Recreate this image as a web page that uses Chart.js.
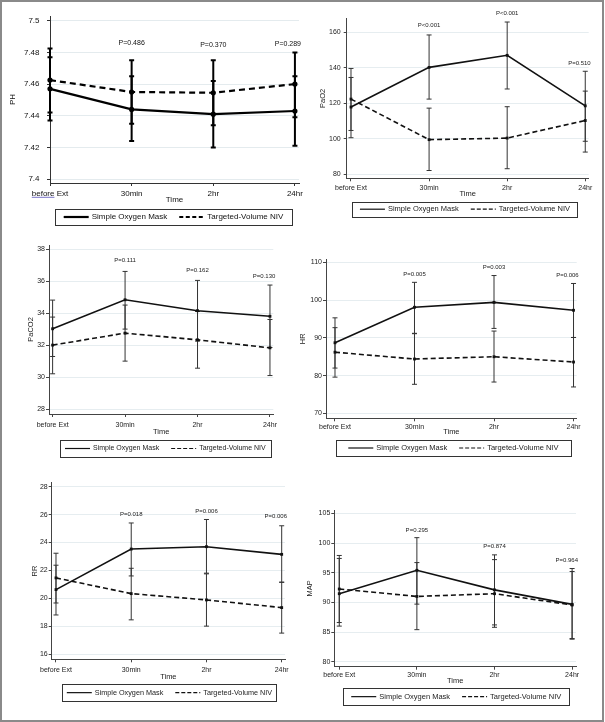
<!DOCTYPE html>
<html>
<head>
<meta charset="utf-8">
<title>Blood gas and vital signs after extubation</title>
<script src="https://cdn.jsdelivr.net/npm/chart.js@4.4.1/dist/chart.umd.min.js"></script>
<style>
    html, body { margin: 0; padding: 0; background: #fff; }
    #page { position: relative; width: 605px; height: 722px; background: #fff; overflow: hidden; }
    #frame { position: absolute; left: 0; top: 0; width: 604px; height: 722px; box-sizing: border-box; border: 2px solid #8a8a8a; pointer-events: none; }
    .panel { position: absolute; }
    .panel canvas { display: block; }
</style>
</head>
<body>
<div id="page">
    <div class="panel" id="p-ph"><canvas></canvas></div>
    <div class="panel" id="p-pao2"><canvas></canvas></div>
    <div class="panel" id="p-paco2"><canvas></canvas></div>
    <div class="panel" id="p-hr"><canvas></canvas></div>
    <div class="panel" id="p-rr"><canvas></canvas></div>
    <div class="panel" id="p-map"><canvas></canvas></div>
    <div id="frame"></div>
</div>
<script>
// --- Shared labels ---
const timeLabels = ["before Ext", "30min", "2hr", "24hr"];
const legendLabels = ["Simple Oxygen Mask", "Targeted-Volume NIV"];

// --- PH ---
const phTicks = [7.4, 7.42, 7.44, 7.46, 7.48, 7.5];
const phMask = [7.457, 7.444, 7.441, 7.443];
const phMaskLow = [7.437, 7.424, 7.420, 7.421];
const phMaskHigh = [7.477, 7.465, 7.462, 7.465];
const phNiv = [7.4625, 7.455, 7.4545, 7.460];
const phNivLow = [7.442, 7.435, 7.434, 7.439];
const phNivHigh = [7.4825, 7.475, 7.475, 7.480];
const phP = [null, "P=0.486", "P=0.370", "P=0.289"];
const phPY = [null, 7.4857, 7.4846, 7.4853];

// --- PaO2 ---
const pao2Ticks = [80, 100, 120, 140, 160];
const pao2Mask = [117.8, 140.2, 147.0, 118.5];
const pao2MaskLow = [100.5, 122.3, 128.0, 98.5];
const pao2MaskHigh = [134.5, 158.5, 165.8, 138.0];
const pao2Niv = [122.3, 99.4, 100.3, 110.2];
const pao2NivLow = [104.6, 82.0, 83.0, 92.4];
const pao2NivHigh = [139.6, 117.2, 118.0, 126.8];
const pao2P = [null, "P<0.001", "P<0.001", "P=0.510"];
const pao2PY = [null, 163.7, 170.7, 142.5];

// --- PaCO2 ---
const paco2Ticks = [28, 30, 32, 34, 36, 38];
const paco2Mask = [33.02, 34.83, 34.15, 33.8];
const paco2MaskLow = [31.29, 33.0, 32.25, 31.85];
const paco2MaskHigh = [34.81, 36.6, 36.04, 35.75];
const paco2Niv = [32.0, 32.75, 32.33, 31.83];
const paco2NivLow = [30.21, 31.0, 30.56, 30.1];
const paco2NivHigh = [33.75, 34.5, 34.1, 33.6];
const paco2P = [null, "P=0.111", "P=0.162", "P=0.130"];
const paco2PY = [null, 37.27, 36.69, 36.27];

// --- HR ---
const hrTicks = [70, 80, 90, 100, 110];
const hrMask = [88.7, 98.1, 99.4, 97.3];
const hrMaskLow = [82.0, 91.2, 92.5, 90.1];
const hrMaskHigh = [95.3, 104.7, 106.5, 104.4];
const hrNiv = [86.2, 84.4, 85.0, 83.6];
const hrNivLow = [79.6, 77.7, 78.3, 77.0];
const hrNivHigh = [92.7, 91.1, 91.8, 90.1];
const hrP = [null, "P=0.005", "P=0.003", "P=0.006"];
const hrPY = [null, 106.8, 108.7, 106.6];

// --- RR ---
const rrTicks = [16, 18, 20, 22, 24, 26, 28];
const rrMask = [20.62, 23.53, 23.7, 23.15];
const rrMaskLow = [18.8, 21.6, 21.8, 21.15];
const rrMaskHigh = [22.37, 25.4, 25.65, 25.2];
const rrNiv = [21.46, 20.33, 19.88, 19.33];
const rrNivLow = [19.66, 18.45, 18.0, 17.5];
const rrNivHigh = [23.23, 22.15, 21.75, 21.15];
const rrP = [null, "P=0.018", "P=0.006", "P=0.006"];
const rrPY = [null, 26.05, 26.2, 25.9];

// --- MAP ---
const mapTicks = [80, 85, 90, 95, 100, 105];
const mapMask = [91.46, 95.4, 92.1, 89.66];
const mapMaskLow = [86.0, 89.7, 86.2, 83.8];
const mapMaskHigh = [97.4, 100.9, 98.0, 95.7];
const mapNiv = [92.25, 91.0, 91.46, 89.55];
const mapNivLow = [86.6, 85.4, 85.8, 83.9];
const mapNivHigh = [97.9, 96.7, 97.2, 95.2];
const mapP = [null, "P=0.295", "P=0.874", "P=0.964"];
const mapPY = [null, 102.2, 99.4, 97.1];

Chart.defaults.font.family = '"Liberation Sans", Arial, sans-serif';

// First panel is rendered heavier than the others in the source figure
const heavyStyle = {
    line: "#000", lineWidth: 2.2, dash: [6, 4], marker: "circle", markerSize: 2.6,
    err: "#000", errWidth: 2, cap: 2.5, text: "#111", axis: "#333", grid: "#e4ebee",
    tickSize: 8, titleSize: 8, pSize: 7, legendSize: 8, legendLine: 2.2, legendDash: [4, 2.5]
};
const lightStyle = {
    line: "#111", lineWidth: 1.6, dash: [5, 3], marker: "rect", markerSize: 2,
    err: "#333", errWidth: 1, cap: 2.5, text: "#222", axis: "#444", grid: "#e6edf0",
    tickSize: 7, titleSize: 7.5, pSize: 6, legendSize: 7.5, legendLine: 1.2, legendDash: [4, 2]
};

function makePanel(p) {
    const [cx, cy, cw, ch] = p.box;
    const holder = document.getElementById(p.holder);
    holder.style.left = cx + "px";
    holder.style.top = cy + "px";
    holder.style.width = cw + "px";
    holder.style.height = ch + "px";
    const canvas = holder.querySelector("canvas");
    canvas.width = cw;
    canvas.height = ch;

    const st = p.heavy ? heavyStyle : lightStyle;
    const left = p.area[0] - cx;
    const top = p.area[1] - cy;
    const right = p.area[2] - cx;
    const bottom = p.area[3] - cy;
    const tickLh = st.tickSize * 1.2;
    const titleLh = st.titleSize * 1.2;
    const xAxisHeight = p.xTitleY - p.area[3] + titleLh / 2;
    const xTickPad = p.xLabelY - p.area[3] - 3 - tickLh / 2;
    const yTitlePad = p.yTitleX - cx - titleLh / 2;

    const series = (label, values, low, high, dash) => ({
        label: label,
        data: values.map((v, i) => ({ x: i, y: v })),
        errLow: low,
        errHigh: high,
        borderColor: st.line,
        backgroundColor: st.line,
        borderWidth: st.lineWidth,
        borderDash: dash,
        pointStyle: st.marker,
        pointRadius: st.markerSize,
        pointBorderWidth: 0,
        tension: 0,
        clip: false
    });

    // Error bars with caps, drawn below the lines
    const errorBars = {
        id: "errorBars",
        beforeDatasetsDraw(chart) {
            const { ctx, scales: { x, y } } = chart;
            ctx.save();
            ctx.strokeStyle = st.err;
            ctx.lineWidth = st.errWidth;
            ctx.setLineDash([]);
            chart.data.datasets.forEach(ds => {
                ds.errLow.forEach((lo, i) => {
                    const px = x.getPixelForValue(i);
                    const yl = y.getPixelForValue(lo);
                    const yh = y.getPixelForValue(ds.errHigh[i]);
                    ctx.beginPath();
                    ctx.moveTo(px, yl); ctx.lineTo(px, yh);
                    ctx.moveTo(px - st.cap, yl); ctx.lineTo(px + st.cap, yl);
                    ctx.moveTo(px - st.cap, yh); ctx.lineTo(px + st.cap, yh);
                    ctx.stroke();
                });
            });
            ctx.restore();
        }
    };

    // P value annotations above each time point
    const pValues = {
        id: "pValues",
        afterDatasetsDraw(chart) {
            const { ctx, chartArea, scales: { x, y } } = chart;
            ctx.save();
            ctx.fillStyle = st.text;
            ctx.font = st.pSize + 'px "Liberation Sans", Arial, sans-serif';
            ctx.textAlign = "center";
            ctx.textBaseline = "middle";
            p.pText.forEach((txt, i) => {
                if (!txt) return;
                const w = ctx.measureText(txt).width;
                let px = x.getPixelForValue(i);
                if (px + w / 2 > chartArea.right + 2) px = chartArea.right + 2 - w / 2;
                ctx.fillText(txt, px, y.getPixelForValue(p.pY[i]));
            });
            ctx.restore();
        }
    };

    // Stata-style boxed legend under the axis title
    const boxLegend = {
        id: "boxLegend",
        afterDraw(chart) {
            const ctx = chart.ctx;
            const bx = p.legend[0] - cx, by = p.legend[1] - cy;
            const bw = p.legend[2] - p.legend[0], bh = p.legend[3] - p.legend[1];
            const sample = 25, gap = 3, spacing = 12;
            ctx.save();
            let size = st.legendSize;
            let w1, w2, content;
            do {
                ctx.font = size + 'px "Liberation Sans", Arial, sans-serif';
                w1 = ctx.measureText(legendLabels[0]).width;
                w2 = ctx.measureText(legendLabels[1]).width;
                content = 2 * sample + 2 * gap + spacing + w1 + w2;
                size -= 0.25;
            } while (content > bw - 8 && size > 5);

            ctx.strokeStyle = "#333";
            ctx.lineWidth = 1;
            ctx.strokeRect(Math.round(bx) + 0.5, Math.round(by) + 0.5, Math.round(bw), Math.round(bh));

            const midY = by + bh / 2;
            let x0 = bx + (bw - content) / 2;
            ctx.strokeStyle = st.line;
            ctx.lineWidth = st.legendLine;
            ctx.fillStyle = st.text;
            ctx.textBaseline = "middle";
            ctx.textAlign = "left";

            ctx.setLineDash([]);
            ctx.beginPath(); ctx.moveTo(x0, midY); ctx.lineTo(x0 + sample, midY); ctx.stroke();
            ctx.fillText(legendLabels[0], x0 + sample + gap, midY);
            x0 += sample + gap + w1 + spacing;

            ctx.setLineDash(st.legendDash);
            ctx.beginPath(); ctx.moveTo(x0, midY); ctx.lineTo(x0 + sample, midY); ctx.stroke();
            ctx.setLineDash([]);
            ctx.fillText(legendLabels[1], x0 + sample + gap, midY);

            // the source scan has a spell-check underline under the first word of the first label
            if (p.underlineFirst) {
                const xs = chart.scales.x;
                ctx.font = st.tickSize + 'px "Liberation Sans", Arial, sans-serif';
                const full = ctx.measureText(timeLabels[0]).width;
                const word = ctx.measureText(timeLabels[0].split(" ")[0]).width;
                const lx = xs.getPixelForValue(0) - full / 2;
                const ly = p.xLabelY - cy + st.tickSize * 0.5;
                ctx.strokeStyle = "#7a74c8";
                ctx.lineWidth = 1;
                ctx.beginPath(); ctx.moveTo(lx, ly); ctx.lineTo(lx + word, ly); ctx.stroke();
            }
            ctx.restore();
        }
    };

    new Chart(canvas.getContext("2d"), {
        type: "line",
        data: {
            datasets: [
                series(legendLabels[0], p.mask, p.maskLow, p.maskHigh, []),
                series(legendLabels[1], p.niv, p.nivLow, p.nivHigh, st.dash)
            ]
        },
        options: {
            responsive: false,
            animation: false,
            events: [],
            layout: { padding: { top: top, right: cw - right, left: 0, bottom: ch - bottom - xAxisHeight } },
            plugins: { legend: { display: false }, tooltip: { enabled: false } },
            scales: {
                x: {
                    type: "linear",
                    min: p.xRange[0],
                    max: p.xRange[1],
                    afterBuildTicks: s => { s.ticks = timeLabels.map((_, i) => ({ value: i })); },
                    afterFit: s => { s.height = xAxisHeight; s.paddingLeft = 0; s.paddingRight = 0; },
                    grid: { drawOnChartArea: false, drawTicks: true, tickLength: 3, tickColor: st.axis, tickWidth: 1 },
                    border: { display: true, color: st.axis, width: 1 },
                    ticks: {
                        color: st.text, font: { size: st.tickSize }, padding: xTickPad,
                        maxRotation: 0, autoSkip: false, callback: v => timeLabels[v]
                    },
                    title: { display: true, text: "Time", color: st.text, font: { size: st.titleSize }, padding: 0 }
                },
                y: {
                    type: "linear",
                    min: p.yRange[0],
                    max: p.yRange[1],
                    afterBuildTicks: s => { s.ticks = p.yTicks.map(v => ({ value: v })); },
                    afterFit: s => { s.width = left; s.paddingTop = 0; s.paddingBottom = 0; },
                    grid: { color: st.grid, lineWidth: 1, drawTicks: true, tickLength: 3, tickColor: st.axis },
                    border: { display: true, color: st.axis, width: 1 },
                    ticks: {
                        color: st.text, font: { size: st.tickSize }, padding: p.yTickPad,
                        autoSkip: false, callback: v => String(v)
                    },
                    title: {
                        display: true, text: p.title, color: st.text, font: { size: st.titleSize },
                        padding: { top: yTitlePad, bottom: 0 }
                    }
                }
            }
        },
        plugins: [errorBars, pValues, boxLegend]
    });
}

// --- Build the six panels ---
makePanel({
    holder: "p-ph", title: "PH", heavy: true, underlineFirst: true,
    box: [0, 0, 305, 234], area: [50, 16, 299, 183],
    xRange: [0, 3.05], yRange: [7.3975, 7.503], yTicks: phTicks, yTickPad: 7.5,
    xLabelY: 193.3, xTitleY: 200, yTitleX: 12.3, legend: [55, 209, 292, 225],
    mask: phMask, maskLow: phMaskLow, maskHigh: phMaskHigh,
    niv: phNiv, nivLow: phNivLow, nivHigh: phNivHigh, pText: phP, pY: phPY
});

makePanel({
    holder: "p-pao2", title: "PaO2",
    box: [296, 0, 309, 234], area: [346.7, 18.3, 588.7, 178.3],
    xRange: [-0.055, 3.044], yRange: [77.6, 167.9], yTicks: pao2Ticks, yTickPad: 3,
    xLabelY: 187.7, xTitleY: 194.3, yTitleX: 322.7, legend: [352.3, 201.7, 577.7, 216.7],
    mask: pao2Mask, maskLow: pao2MaskLow, maskHigh: pao2MaskHigh,
    niv: pao2Niv, nivLow: pao2NivLow, nivHigh: pao2NivHigh, pText: pao2P, pY: pao2PY
});

makePanel({
    holder: "p-paco2", title: "PaCO2",
    box: [0, 234, 305, 236], area: [49, 245, 273.3, 414],
    xRange: [-0.05, 3.046], yRange: [27.7, 38.25], yTicks: paco2Ticks, yTickPad: 1,
    xLabelY: 425, xTitleY: 431.7, yTitleX: 30.7, legend: [60, 440, 270.7, 457],
    mask: paco2Mask, maskLow: paco2MaskLow, maskHigh: paco2MaskHigh,
    niv: paco2Niv, nivLow: paco2NivLow, nivHigh: paco2NivHigh, pText: paco2P, pY: paco2PY
});

makePanel({
    holder: "p-hr", title: "HR",
    box: [296, 234, 309, 236], area: [326, 259.3, 576.7, 418.3],
    xRange: [-0.113, 3.04], yRange: [68.7, 110.8], yTicks: hrTicks, yTickPad: 1,
    xLabelY: 426.7, xTitleY: 432.3, yTitleX: 303, legend: [336, 440, 570.7, 456],
    mask: hrMask, maskLow: hrMaskLow, maskHigh: hrMaskHigh,
    niv: hrNiv, nivLow: hrNivLow, nivHigh: hrNivHigh, pText: hrP, pY: hrPY
});

makePanel({
    holder: "p-rr", title: "RR",
    box: [0, 470, 305, 252], area: [51.7, 482.7, 285, 659.3],
    xRange: [-0.057, 3.044], yRange: [15.62, 28.29], yTicks: rrTicks, yTickPad: 1,
    xLabelY: 670, xTitleY: 676.7, yTitleX: 35, legend: [62.3, 684.3, 276.7, 701],
    mask: rrMask, maskLow: rrMaskLow, maskHigh: rrMaskHigh,
    niv: rrNiv, nivLow: rrNivLow, nivHigh: rrNivHigh, pText: rrP, pY: rrPY
});

makePanel({
    holder: "p-map", title: "MAP",
    box: [296, 470, 309, 252], area: [334.3, 510, 576, 666.7],
    xRange: [-0.064, 3.05], yRange: [79.16, 105.56], yTicks: mapTicks, yTickPad: 1,
    xLabelY: 675, xTitleY: 681, yTitleX: 310, legend: [343.3, 688.3, 569.3, 705],
    mask: mapMask, maskLow: mapMaskLow, maskHigh: mapMaskHigh,
    niv: mapNiv, nivLow: mapNivLow, nivHigh: mapNivHigh, pText: mapP, pY: mapPY
});
</script>
</body>
</html>
